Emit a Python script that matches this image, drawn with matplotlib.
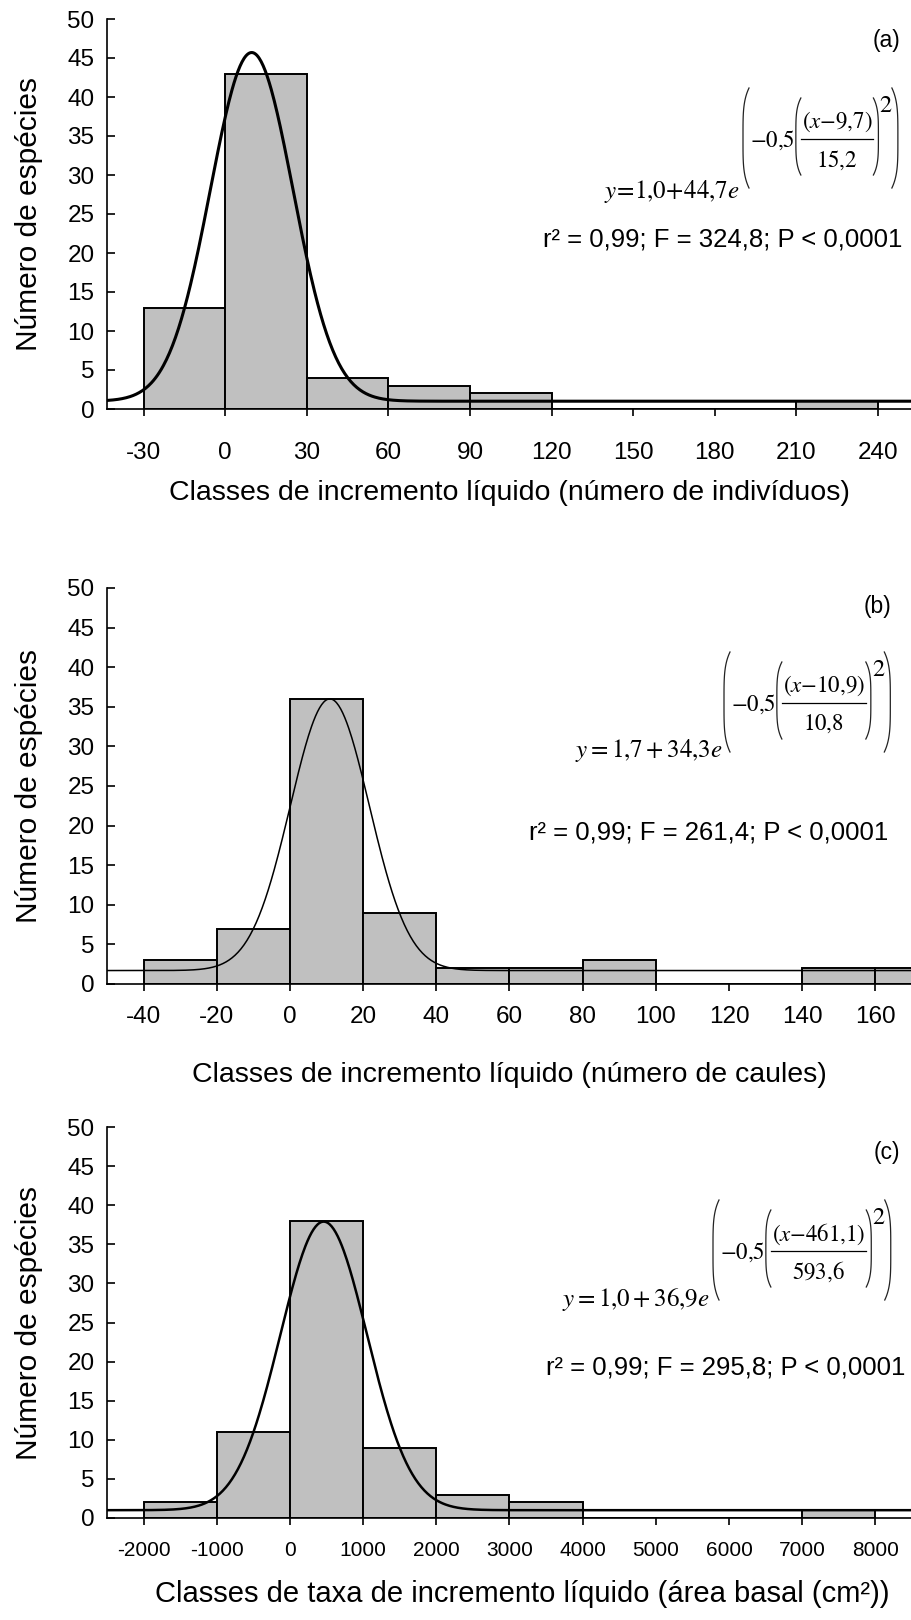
import numpy as np
import matplotlib
matplotlib.use("Agg")
import matplotlib.pyplot as plt
from matplotlib.lines import Line2D

plt.rcParams['font.family'] = ['Liberation Sans', 'DejaVu Sans']
plt.rcParams['mathtext.fontset'] = 'stix'

# -------------------------
# Data
# -------------------------
a_edges = [-30, 0, 30, 60, 90, 120, 150, 180, 210]
a_counts = [13, 43, 4, 3, 2, 0, 0, 0, 1]
a_ticks = [-30, 0, 30, 60, 90, 120, 150, 180, 210, 240]
a_fit = [1.0, 44.7, 9.7, 15.2]  # y0, A, x0, b

b_edges = [-40, -20, 0, 20, 40, 60, 80, 100, 120, 140, 160]
b_counts = [3, 7, 36, 9, 2, 2, 3, 0, 0, 2, 2]
b_ticks = [-40, -20, 0, 20, 40, 60, 80, 100, 120, 140, 160]
b_fit = [1.7, 34.3, 10.9, 10.8]

c_edges = [-2000, -1000, 0, 1000, 2000, 3000, 4000, 5000, 6000, 7000]
c_counts = [2, 11, 38, 9, 3, 2, 0, 0, 0, 1]
c_ticks = [-2000, -1000, 0, 1000, 2000, 3000, 4000, 5000, 6000, 7000, 8000]
c_fit = [1.0, 36.9, 461.1, 593.6]

W, H = 912, 1620
fig = plt.figure(figsize=(W / 100, H / 100), dpi=100)


def fx(px):
    return px / W


def fy(py):
    return 1 - py / H


def panel(top, bottom, edges, counts, ticks, fit, xlim, lw_curve,
          tick_fs, tick_pad, xlabel, xlab_fs, xlab_y, xlab_x):
    ax = fig.add_axes([fx(107), fy(bottom), fx(W - 107), (bottom - top) / H])
    width = edges[1] - edges[0]
    ax.bar(edges, counts, width=width, align='edge', color='#c0c0c0',
           edgecolor='black', linewidth=1.4, zorder=2)
    x = np.linspace(xlim[0], xlim[1], 800)
    y0, A, x0, b = fit
    ax.plot(x, y0 + A * np.exp(-0.5 * ((x - x0) / b) ** 2), color='black',
            lw=lw_curve, zorder=3)
    ax.set_xlim(*xlim)
    ax.set_ylim(0, 50)
    ax.set_yticks(range(0, 51, 5))
    ax.set_xticks(ticks)
    ax.set_xticklabels([str(t) for t in ticks])
    for s in ['top', 'right']:
        ax.spines[s].set_visible(False)
    for s in ['left', 'bottom']:
        ax.spines[s].set_linewidth(1.2)
    ax.tick_params(axis='y', direction='in', length=6, width=1.2,
                   labelsize=17.5, pad=9)
    ax.tick_params(axis='x', direction='out', length=5, width=1.2,
                   labelsize=tick_fs, pad=tick_pad)
    ax.set_ylabel('Número de espécies', fontsize=21.5)
    ax.yaxis.set_label_coords(-0.097, 0.5)
    ax.yaxis.label.set_va('center')
    ax.set_xlabel(xlabel, fontsize=xlab_fs)
    ax.xaxis.set_label_coords(xlab_x, (bottom - xlab_y) / (bottom - top))
    ax.xaxis.label.set_va('center')
    return ax


panel(19, 409, a_edges, a_counts, a_ticks, a_fit, (-43.5, 252.5), 2.2,
      17.5, 18.5, 'Classes de incremento líquido (número de indivíduos)', 20.5, 493, 0.5)
panel(588, 984, b_edges, b_counts, b_ticks, b_fit, (-50, 170), 1.1,
      17.5, 10.5, 'Classes de incremento líquido (número de caules)', 20.5, 1075, 0.5)
panel(1127, 1518, c_edges, c_counts, c_ticks, c_fit, (-2500, 8500), 1.8,
      15, 11.5, 'Classes de taxa de incremento líquido (área basal (cm²))', 21, 1594, 0.516)

# -------------------------
# Annotations
# -------------------------
labels = ['(a)', '(b)', '(c)']
label_pos = [(887, 40), (878, 607), (887, 1153)]
for t, (px, py) in zip(labels, label_pos):
    fig.text(fx(px), fy(py), t, fontsize=16.5, ha='center', va='center')

stats = ['r² = 0,99; F = 324,8; P < 0,0001',
         'r² = 0,99; F = 261,4; P < 0,0001',
         'r² = 0,99; F = 295,8; P < 0,0001']
stat_pos = [(902, 240), (888, 832), (905, 1367)]
for t, (px, py) in zip(stats, stat_pos):
    fig.text(fx(px), fy(py), t, fontsize=18.5, ha='right', va='center')

bases = [r'$y\!=\!1{,}0\!+\!44{,}7e$', r'$y=1{,}7+34{,}3e$', r'$y=1{,}0+36{,}9e$']
base_pos = [(740, 198), (723, 757), (710, 1306)]
for t, (px, py) in zip(bases, base_pos):
    fig.text(fx(px), fy(py), t, fontsize=18, ha='right', va='baseline')

renderer = fig.canvas.get_renderer()


def paren(x_edge, ytop, ybot, w, side):
    t = np.linspace(-1, 1, 60)
    ys = (ytop + ybot) / 2 + (ybot - ytop) / 2 * t
    if side == 'l':
        xs = x_edge + w * t ** 4
    else:
        xs = x_edge - w * t ** 4
    fig.add_artist(Line2D(fx(xs), fy(ys), transform=fig.transFigure,
                          color='#222222', lw=0.9))


def exponent(x0, yc, num, den, fs=16.5):
    # -0,5 ( num / den )^2 inside large parentheses
    t1 = fig.text(fx(x0 + 7), fy(yc + 2), r'$-0{,}5$', fontsize=fs,
                  ha='left', va='center')
    b1 = t1.get_window_extent(renderer)
    xa = b1.x1 + 1
    tn = fig.text(0, 0, r'$(x{-}%s)$' % num, fontsize=fs, ha='center',
                  va='center')
    td = fig.text(0, 0, r'$%s$' % den, fontsize=fs, ha='center',
                  va='center')
    wn = tn.get_window_extent(renderer).width
    wd = td.get_window_extent(renderer).width
    fw = max(wn, wd) + 2
    xc = xa + 5 + fw / 2
    tn.set_position((fx(xc), fy(yc - 16)))
    td.set_position((fx(xc), fy(yc + 22)))
    fig.add_artist(Line2D([fx(xc - fw / 2), fx(xc + fw / 2)],
                          [fy(yc + 1), fy(yc + 1)],
                          transform=fig.transFigure, color='black', lw=0.9))
    paren(xa, yc - 40, yc + 37, 5, 'l')
    xb = xc + fw / 2 + 5
    paren(xb, yc - 40, yc + 37, 5, 'r')
    t3 = fig.text(fx(xb + 1), fy(yc - 32), r'$2$', fontsize=fs + 1,
                  ha='left', va='center')
    b3 = t3.get_window_extent(renderer)
    paren(x0, yc - 50, yc + 50, 6, 'l')
    paren(b3.x1 + 5, yc - 50, yc + 50, 6, 'r')


exp_nums = ['9{,}7', '10{,}9', '461{,}1']
exp_dens = ['15{,}2', '10{,}8', '593{,}6']
exp_pos = [(743, 138), (724, 702), (713, 1250)]
for n, d, (px, py) in zip(exp_nums, exp_dens, exp_pos):
    exponent(px, py, n, d)

fig.savefig('out.png', dpi=100)
